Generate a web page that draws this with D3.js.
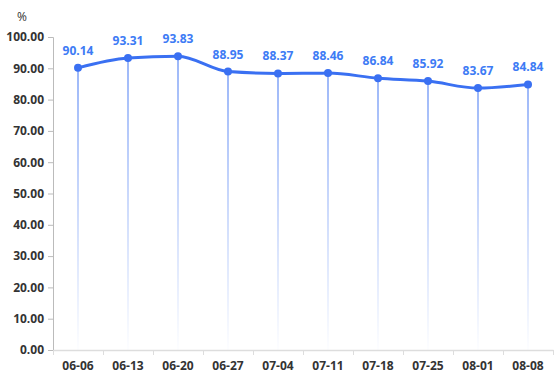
<!DOCTYPE html>
<html>
<head>
<script src="https://d3js.org/d3.v7.min.js"></script>
<style>
  body { margin: 0; background: #fff; }
  text { font-family: "Open Sans", "Noto Sans", sans-serif; }
</style>
</head>
<body>
<script>
  var dates = ['06-06', '06-13', '06-20', '06-27', '07-04', '07-11', '07-18', '07-25', '08-01', '08-08'];
  var rates = [90.14, 93.31, 93.83, 88.95, 88.37, 88.46, 86.84, 85.92, 83.67, 84.84];
  var yTicks = [0, 10, 20, 30, 40, 50, 60, 70, 80, 90, 100];

  var width = 554, height = 392;
  var padLeft = 53, padRight = 553, padTop = 37, padBottom = 350;
  var blue = '#3a70f2';

  var svg = d3.select('body').append('svg')
    .attr('width', width)
    .attr('height', height);

  var x = d3.scaleBand().domain(dates).range([padLeft, padRight]);
  var y = d3.scaleLinear().domain([0, 100]).range([padBottom, padTop]);

  var defs = svg.append('defs');
  var grad = defs.append('linearGradient')
    .attr('id', 'drop')
    .attr('x1', 0).attr('y1', 0).attr('x2', 0).attr('y2', 1);
  grad.append('stop').attr('offset', '0%').attr('stop-color', blue).attr('stop-opacity', 1);
  grad.append('stop').attr('offset', '100%').attr('stop-color', blue).attr('stop-opacity', 0.02);

  // y axis
  var yAxis = svg.append('g')
    .attr('transform', 'translate(' + padLeft + ',0)')
    .call(d3.axisLeft(y).tickValues(yTicks).tickSize(5).tickPadding(4)
      .tickFormat(function(d) { return d.toFixed(2); }));
  yAxis.select('.domain').attr('stroke', '#bbb');
  yAxis.selectAll('.tick line').attr('stroke', '#bbb');
  yAxis.selectAll('text')
    .attr('fill', '#333').attr('font-size', 12).attr('font-weight', 'bold');

  // x axis
  var xAxis = svg.append('g')
    .attr('transform', 'translate(0,' + padBottom + ')')
    .call(d3.axisBottom(x).tickSize(0).tickPadding(11));
  xAxis.select('.domain').attr('stroke', '#ddd').attr('stroke-width', 1.5);
  xAxis.selectAll('text')
    .attr('fill', '#333').attr('font-size', 12).attr('font-weight', 'bold');
  // boundary ticks
  svg.append('g').selectAll('line')
    .data(dates.concat(['end']))
    .join('line')
    .attr('x1', function(d, i) { return padLeft + i * x.bandwidth() + 0.5; })
    .attr('x2', function(d, i) { return padLeft + i * x.bandwidth() + 0.5; })
    .attr('y1', padBottom)
    .attr('y2', padBottom + 5)
    .attr('stroke', '#ddd')
    .attr('stroke-width', 1);

  svg.append('text')
    .attr('x', 22).attr('y', 21)
    .attr('text-anchor', 'middle')
    .attr('font-size', 12)
    .attr('fill', '#333')
    .text('%');

  var cx = function(d, i) { return x(dates[i]) + x.bandwidth() / 2; };

  // drop lines
  svg.append('g').selectAll('rect')
    .data(rates)
    .join('rect')
    .attr('x', function(d, i) { return cx(d, i) - 0.5; })
    .attr('y', function(d) { return y(d); })
    .attr('width', 1)
    .attr('height', function(d) { return padBottom - y(d); })
    .attr('fill', 'url(#drop)');

  var line = d3.line()
    .x(cx)
    .y(function(d) { return y(d); })
    .curve(d3.curveMonotoneX);

  svg.append('path')
    .datum(rates)
    .attr('d', line)
    .attr('fill', 'none')
    .attr('stroke', blue)
    .attr('stroke-width', 3);

  svg.append('g').selectAll('circle')
    .data(rates)
    .join('circle')
    .attr('cx', cx)
    .attr('cy', function(d) { return y(d); })
    .attr('r', 4)
    .attr('fill', blue);

  svg.append('g').selectAll('text')
    .data(rates)
    .join('text')
    .attr('x', cx)
    .attr('y', function(d) { return y(d) - 13; })
    .attr('text-anchor', 'middle')
    .attr('font-size', 12)
    .attr('font-weight', 'bold')
    .attr('fill', '#3d7bf5')
    .text(function(d) { return d.toFixed(2); });
</script>
</body>
</html>
